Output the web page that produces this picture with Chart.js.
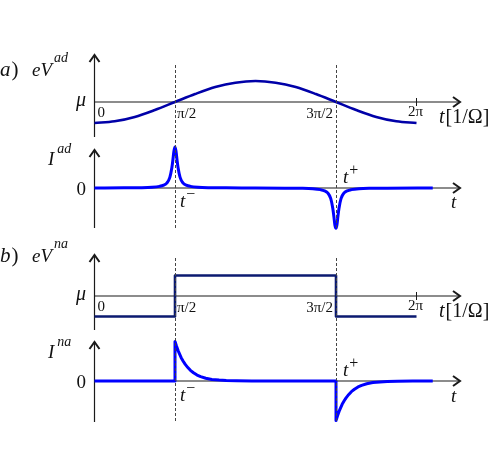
<!DOCTYPE html>
<html>
<head>
<meta charset="utf-8">
<script src="https://cdn.jsdelivr.net/npm/chart.js@4.4.0/dist/chart.umd.min.js"></script>
<style>
  html, body { margin: 0; padding: 0; background: #fff; }
  #wrap { width: 491px; height: 464px; }
</style>
</head>
<body>
<div id="wrap"><canvas id="fig" width="491" height="464"></canvas></div>
<script>
// --- datos ---
const tickTimes = [0, 1.5708, 4.7124, 6.2832];
const tickLabels = ['0', 'π/2', '3π/2', '2π'];

// a) potencial adiabatico eV^ad (unidades de amplitud)
const vAdTime = [0, 0.393, 0.785, 1.178, 1.571, 1.963, 2.356, 2.749, 3.142,
                 3.534, 3.927, 4.320, 4.712, 5.105, 5.498, 5.890, 6.283];
const vAdVal  = [-1, -0.92, -0.71, -0.38, 0, 0.38, 0.71, 0.92, 1,
                 0.92, 0.71, 0.38, 0, -0.38, -0.71, -0.92, -1];

// a) corriente I^ad
const iAdTime = [0, 0.57, 0.87, 1.12, 1.27, 1.35, 1.41, 1.47, 1.51, 1.53, 1.55, 1.571,
                 1.59, 1.61, 1.63, 1.67, 1.73, 1.79, 1.87, 2.02, 2.27, 2.57, 3.14,
                 3.71, 4.01, 4.26, 4.41, 4.49, 4.55, 4.61, 4.65, 4.67, 4.69, 4.712,
                 4.73, 4.75, 4.77, 4.81, 4.87, 4.93, 5.01, 5.16, 5.41, 5.71, 6.6];
const iAdVal  = [0, 0.004, 0.007, 0.017, 0.04, 0.07, 0.12, 0.26, 0.5, 0.69, 0.9, 1,
                 0.9, 0.69, 0.5, 0.26, 0.12, 0.07, 0.04, 0.017, 0.007, 0.004, 0.001,
                 -0.004, -0.007, -0.017, -0.04, -0.07, -0.12, -0.26, -0.5, -0.69, -0.9, -0.98,
                 -0.9, -0.69, -0.5, -0.26, -0.12, -0.07, -0.04, -0.017, -0.007, -0.004, 0];

// b) potencial no adiabatico eV^na (escalon)
const vNaTime = [0, 1.5708, 1.5708, 4.7124, 4.7124, 6.2832];
const vNaVal  = [-1, -1, 1, 1, -1, -1];

// b) corriente I^na
const iNaTime = [0, 1.5708, 1.5708, 1.601, 1.631, 1.661, 1.691, 1.731, 1.771, 1.821, 1.871,
                 1.931, 2.001, 2.071, 2.171, 2.291, 2.431, 2.571, 2.771, 3.071, 3.6,
                 4.7124, 4.7124, 4.742, 4.772, 4.802, 4.832, 4.872, 4.912, 4.962, 5.012,
                 5.072, 5.142, 5.212, 5.312, 5.432, 5.572, 5.712, 5.912, 6.212, 6.6];
const iNaVal  = [0, 0, 1, 0.88, 0.77, 0.68, 0.59, 0.5, 0.42, 0.34, 0.27,
                 0.21, 0.15, 0.11, 0.07, 0.04, 0.024, 0.013, 0.005, 0.0015, 0,
                 0, -1, -0.88, -0.77, -0.68, -0.59, -0.5, -0.42, -0.34, -0.27,
                 -0.21, -0.15, -0.11, -0.07, -0.04, -0.024, -0.013, -0.005, -0.0015, 0];

// --- disposicion (pixeles) ---
const W = 491, H = 464;
const X0_PX = 94.5, PX_PER_UNIT = 51.25;
const AXIS_END_PX = 460;

// cada panel: su eje y propio, linea del cero y escala vertical
const panels = [
  { id: 'yAV', zero: 102, ppu: 21,   up: 47, down: 35 },
  { id: 'yAI', zero: 188, ppu: 41,   up: 38, down: 40 },
  { id: 'yBV', zero: 296, ppu: 20.5, up: 41, down: 34 },
  { id: 'yBI', zero: 381, ppu: 39.5, up: 39, down: 41 }
];

function yRange(p) {
  return { min: -(H - p.zero) / p.ppu, max: p.zero / p.ppu };
}

const SERIF = '"Liberation Serif", "DejaVu Serif", serif';

function pts(ts, vs) {
  return ts.map((t, i) => ({ x: t, y: vs[i] }));
}

function line(ctx, x1, y1, x2, y2) {
  ctx.beginPath();
  ctx.moveTo(x1, y1);
  ctx.lineTo(x2, y2);
  ctx.stroke();
}

// texto con superindice opcional
function mathText(ctx, x, y, main, sup, size, opts = {}) {
  const italic = opts.italic !== false;
  const mainFont = (italic ? 'italic ' : '') + size + 'px ' + SERIF;
  const supFont = (opts.supItalic === false ? '' : 'italic ') + (opts.supSize || 14) + 'px ' + SERIF;
  ctx.textBaseline = 'alphabetic';
  ctx.textAlign = 'left';
  ctx.font = mainFont;
  const w = ctx.measureText(main).width;
  let supW = 0;
  if (sup) {
    ctx.font = supFont;
    supW = ctx.measureText(sup).width;
  }
  let left = x;
  if (opts.align === 'right') left = x - w - supW;
  if (opts.align === 'center') left = x - (w + supW) / 2;
  ctx.font = mainFont;
  ctx.fillText(main, left, y);
  if (sup) {
    ctx.font = supFont;
    ctx.fillText(sup, left + w + (opts.supGap || 1), y - (opts.supRise || 13));
  }
}

const figurePlugin = {
  id: 'figure',
  beforeDatasetsDraw(chart) {
    const { ctx, scales } = chart;
    const x0 = scales.x.getPixelForValue(0);
    ctx.save();
    ctx.strokeStyle = '#1a1a1a';
    panels.forEach(p => {
      const y0 = scales[p.id].getPixelForValue(0);
      ctx.lineWidth = 1.2;
      line(ctx, x0, y0, AXIS_END_PX, y0);
      line(ctx, x0, y0 + p.down, x0, y0 - p.up);
      // puntas de flecha
      ctx.lineWidth = 2;
      ctx.beginPath();
      ctx.moveTo(AXIS_END_PX - 7, y0 - 5);
      ctx.lineTo(AXIS_END_PX, y0);
      ctx.lineTo(AXIS_END_PX - 7, y0 + 5);
      ctx.stroke();
      ctx.beginPath();
      ctx.moveTo(x0 - 5, y0 - p.up + 7);
      ctx.lineTo(x0, y0 - p.up);
      ctx.lineTo(x0 + 5, y0 - p.up + 7);
      ctx.stroke();
    });
    // marca en 2pi
    ctx.lineWidth = 1;
    ['yAV', 'yBV'].forEach(id => {
      const y0 = scales[id].getPixelForValue(0);
      const xt = scales.x.getPixelForValue(tickTimes[3]);
      line(ctx, xt, y0 - 4, xt, y0 + 4);
    });
    ctx.restore();
  },
  afterDatasetsDraw(chart) {
    const { ctx, scales } = chart;
    const xs = scales.x;
    const px = t => xs.getPixelForValue(t);
    const zero = id => scales[id].getPixelForValue(0);
    ctx.save();

    // lineas discontinuas en pi/2 y 3pi/2
    ctx.strokeStyle = '#444';
    ctx.lineWidth = 1;
    ctx.setLineDash([3, 2]);
    [tickTimes[1], tickTimes[2]].forEach(t => {
      const xv = Math.round(px(t)) + 0.5;
      line(ctx, xv, zero('yAV') - 37, xv, zero('yAI') + 41);
      line(ctx, xv, zero('yBV') - 38, xv, zero('yBI') + 42);
    });
    ctx.setLineDash([]);

    ctx.fillStyle = '#111';
    const rows = [
      { v: 'yAV', i: 'yAI', tag: 'a', sup: 'ad', head: -26, tMinus: 19, tEnd: 20 },
      { v: 'yBV', i: 'yBI', tag: 'b', sup: 'na', head: -34, tMinus: 20, tEnd: 21 }
    ];
    rows.forEach(r => {
      const zv = zero(r.v), zi = zero(r.i);
      const headY = zv + r.head;
      ctx.font = 'italic 21px ' + SERIF;
      ctx.textAlign = 'left';
      ctx.fillText(r.tag, 0, headY);
      const tagW = ctx.measureText(r.tag).width;
      ctx.font = '21px ' + SERIF;
      ctx.fillText(')', tagW + 1, headY);
      mathText(ctx, 32, headY, 'eV', r.sup, 19, { supRise: 14, supGap: 2 });
      mathText(ctx, 86, zv + 4, 'μ', null, 20, { align: 'right' });

      // etiquetas de tiempo
      mathText(ctx, px(tickTimes[0]) + 3, zv + 15, tickLabels[0], null, 15, { italic: false });
      mathText(ctx, px(tickTimes[1]) + 2, zv + 16, tickLabels[1], null, 15, { italic: false });
      mathText(ctx, px(tickTimes[2]) - 3, zv + 16, tickLabels[2], null, 15, { italic: false, align: 'right' });
      mathText(ctx, px(tickTimes[3]) - 1, zv + 14, tickLabels[3], null, 15, { italic: false, align: 'center' });

      // t[1/Ω]
      ctx.font = 'italic 20px ' + SERIF;
      ctx.textAlign = 'left';
      ctx.fillText('t', 439, zv + 21);
      const tw = ctx.measureText('t').width;
      ctx.font = '20px ' + SERIF;
      ctx.fillText('[1/Ω]', 439 + tw + 1, zv + 21);

      // panel de corriente
      mathText(ctx, 48, zi - 23, 'I', r.sup, 19, { supRise: 12, supGap: 3 });
      mathText(ctx, 86, zi + 7, '0', null, 19, { italic: false, align: 'right' });
      mathText(ctx, px(tickTimes[1]) + 5, zi + r.tMinus, 't', '−', 19,
               { supItalic: false, supSize: 16, supRise: 8, supGap: 1 });
      mathText(ctx, px(tickTimes[2]) + 7, zi - 5, 't', '+', 19,
               { supItalic: false, supSize: 16, supRise: 8, supGap: 1 });
      mathText(ctx, 451, zi + r.tEnd, 't', null, 19);
    });
    ctx.restore();
  }
};

const scales = {
  x: { type: 'linear', display: false,
       min: -X0_PX / PX_PER_UNIT, max: (W - X0_PX) / PX_PER_UNIT }
};
panels.forEach(p => {
  scales[p.id] = Object.assign({ type: 'linear', display: false, position: 'left' }, yRange(p));
});

new Chart(document.getElementById('fig'), {
  type: 'line',
  data: {
    datasets: [
      { data: pts(vAdTime, vAdVal), yAxisID: 'yAV', borderColor: '#0000a8',
        borderWidth: 2.6, cubicInterpolationMode: 'monotone' },
      { data: pts(iAdTime, iAdVal), yAxisID: 'yAI', borderColor: '#0000ff',
        borderWidth: 3, cubicInterpolationMode: 'monotone' },
      { data: pts(vNaTime, vNaVal), yAxisID: 'yBV', borderColor: '#0b1a70',
        borderWidth: 2.6, tension: 0 },
      { data: pts(iNaTime, iNaVal), yAxisID: 'yBI', borderColor: '#0000ff',
        borderWidth: 3, tension: 0 }
    ].map(d => Object.assign({ xAxisID: 'x', pointRadius: 0, fill: false,
                               borderJoinStyle: 'round', borderCapStyle: 'butt' }, d))
  },
  options: {
    responsive: false,
    animation: false,
    devicePixelRatio: 1,
    layout: { padding: 0 },
    plugins: { legend: { display: false }, tooltip: { enabled: false } },
    scales: scales
  },
  plugins: [figurePlugin]
});
</script>
</body>
</html>
